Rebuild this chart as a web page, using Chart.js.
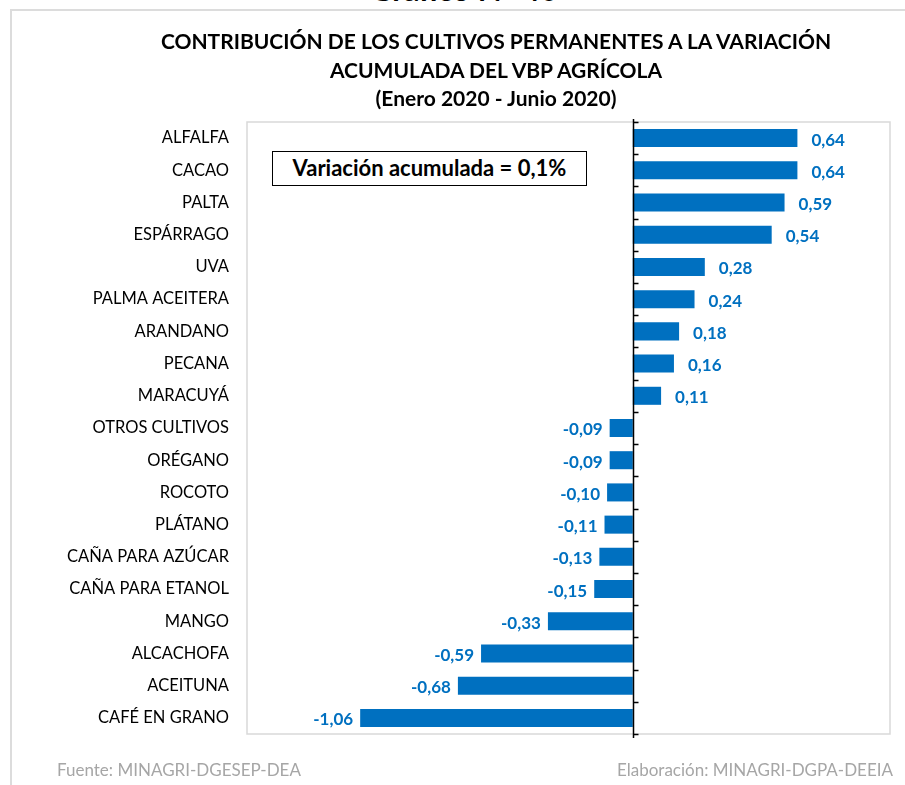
<!DOCTYPE html>
<html>
<head>
<meta charset="utf-8">
<script src="https://cdn.jsdelivr.net/npm/chart.js@4"></script>
<style>
  html, body { margin: 0; padding: 0; background: #fff; }
  body { width: 905px; height: 785px; position: relative; overflow: hidden; font-family: Lato, "Open Sans", sans-serif; }
  #chart { position: absolute; left: 0; top: 0; }
  .frame { position: absolute; left: 10px; top: 9px; width: 1000px; height: 900px; border-left: 2px solid #dcdcdc; border-top: 2px solid #dcdcdc; }
  .head { position: absolute; left: 264px; width: 400px; top: -29px; text-align: center; font-weight: bold; font-size: 31px; line-height: 36px; color: #000; }
  .title { position: absolute; left: 96px; width: 800px; text-align: center; font-weight: bold; font-size: 21px; color: #000; line-height: 28.5px; top: 27px; }
  .note { position: absolute; left: 272px; top: 151px; width: 315px; height: 35px; border: 1.5px solid #000; box-sizing: border-box; font-weight: bold; font-size: 22px; text-align: center; line-height: 32px; background: #fff; }
  .foot { position: absolute; top: 759px; font-size: 17px; color: #a6a6a6; }
</style>
</head>
<body>
<div class="frame"></div>
<div class="head">Gráfico N° 40</div>
<canvas id="chart" width="905" height="785"></canvas>
<div class="title">CONTRIBUCIÓN DE LOS CULTIVOS PERMANENTES A LA VARIACIÓN<br>ACUMULADA DEL VBP AGRÍCOLA<br>(Enero 2020 - Junio 2020)</div>
<div class="note">Variación acumulada = 0,1%</div>
<div class="foot" style="left:57px">Fuente: MINAGRI-DGESEP-DEA</div>
<div class="foot" style="right:12px">Elaboración: MINAGRI-DGPA-DEEIA</div>
<script>
const cultivos = [
  "ALFALFA", "CACAO", "PALTA", "ESPÁRRAGO", "UVA", "PALMA ACEITERA",
  "ARANDANO", "PECANA", "MARACUYÁ", "OTROS CULTIVOS", "ORÉGANO", "ROCOTO",
  "PLÁTANO", "CAÑA PARA AZÚCAR", "CAÑA PARA ETANOL", "MANGO", "ALCACHOFA",
  "ACEITUNA", "CAFÉ EN GRANO"
]
const contribucion = [
  0.64, 0.64, 0.59, 0.54, 0.28, 0.24,
  0.18, 0.16, 0.11, -0.09, -0.09, -0.10,
  -0.11, -0.13, -0.15, -0.33, -0.59,
  -0.68, -1.06
]
const ejeMin = -1.5
const ejeMax = 1.0

const azul = "#0070C0"

// box around the plot area, zero axis with its tick marks
const plotFrame = {
  id: "plotFrame",
  beforeDatasetsDraw(chart) {
    const { ctx, chartArea } = chart
    ctx.save()
    ctx.strokeStyle = "#d9d9d9"
    ctx.lineWidth = 1.5
    ctx.strokeRect(chartArea.left, chartArea.top, chartArea.right - chartArea.left, chartArea.bottom - chartArea.top)
    ctx.restore()
  },
  afterDatasetsDraw(chart) {
    const { ctx, chartArea, scales } = chart
    const x0 = Math.round(scales.x.getPixelForValue(0)) + 0.5
    ctx.save()
    ctx.strokeStyle = "#000"
    ctx.lineWidth = 1.5
    ctx.beginPath()
    ctx.moveTo(x0, chartArea.top - 3)
    ctx.lineTo(x0, chartArea.bottom + 4)
    const n = cultivos.length
    for (let i = 0; i <= n; i++) {
      const y = Math.round(scales.y.getPixelForValue(i - 0.5)) + 0.5
      ctx.moveTo(x0, y)
      ctx.lineTo(x0 + 5, y)
    }
    ctx.stroke()

    // value labels
    ctx.font = "bold 17px Lato, sans-serif"
    ctx.fillStyle = azul
    ctx.textBaseline = "middle"
    chart.getDatasetMeta(0).data.forEach((bar, i) => {
      const v = contribucion[i]
      const txt = v.toFixed(2).replace(".", ",")
      if (v >= 0) {
        ctx.textAlign = "left"
        ctx.fillText(txt, bar.x + 14, bar.y + 2)
      } else {
        ctx.textAlign = "right"
        ctx.fillText(txt, bar.x - 7, bar.y + 2)
      }
    })
    ctx.restore()
  }
}

new Chart(document.getElementById("chart"), {
  type: "bar",
  data: {
    labels: cultivos,
    datasets: [{
      data: contribucion,
      backgroundColor: azul,
      borderWidth: 0,
      categoryPercentage: 1,
      barPercentage: 0.56,
    }],
  },
  options: {
    indexAxis: "y",
    responsive: false,
    animation: false,
    layout: { padding: { top: 122, bottom: 51, right: 15, left: 0 } },
    plugins: {
      legend: { display: false },
      tooltip: { enabled: false },
    },
    scales: {
      x: {
        display: false,
        min: ejeMin,
        max: ejeMax,
      },
      y: {
        afterFit(scale) { scale.width = 247 },
        grid: { display: false },
        border: { display: false },
        ticks: {
          padding: 10,
          color: "#000",
          font: { family: "Lato", size: 16.5 },
        },
      },
    },
  },
  plugins: [plotFrame],
})
</script>
</body>
</html>
